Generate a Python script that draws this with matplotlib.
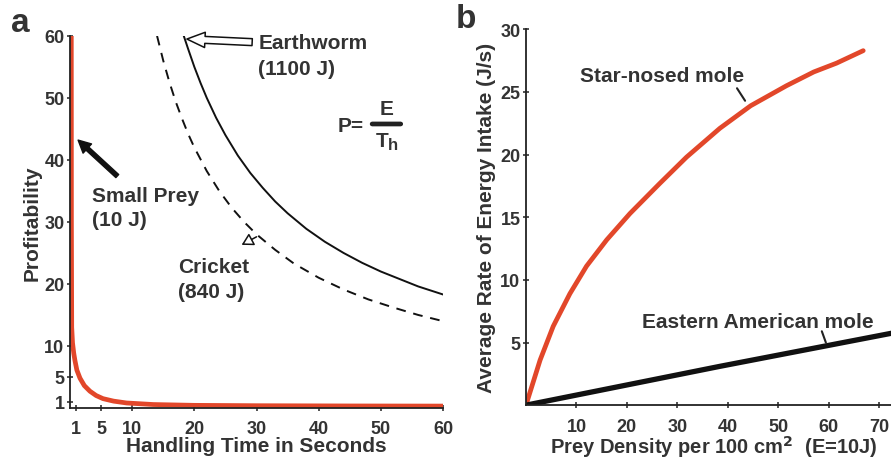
import matplotlib
matplotlib.use("Agg")
from matplotlib import pyplot as plt

plt.rcParams['font.family'] = ['Liberation Sans', 'DejaVu Sans']
plt.rcParams['font.weight'] = 'bold'
plt.rcParams['axes.labelweight'] = 'bold'

TXT = '#333333'
RED = '#e2472a'

# panel a: profitability vs handling time
small_t = [0.2, 0.22, 0.27, 0.4, 0.6, 0.8, 1.1, 1.6, 2.3, 3.2, 4.2, 5.3, 7, 9.1, 13.4, 20, 30, 45, 60]
small_p = [60, 30, 13, 10.5, 8.8, 7.6, 6.1, 4.8, 3.6, 2.7, 2.0, 1.5, 1.1, 0.8, 0.55, 0.42, 0.36, 0.32, 0.3]
worm_t = [18.3, 19, 20, 21, 22, 23.5, 25, 27, 29, 31, 33, 35, 38, 41, 44, 47, 50, 53, 56, 60]
worm_p = [60, 57.9, 55, 52.4, 50, 46.8, 44, 40.7, 37.9, 35.5, 33.3, 31.4, 28.9, 26.8, 25, 23.4, 22, 20.8, 19.6, 18.3]
cricket_t = [14, 15, 16, 17, 18, 19, 20, 22, 24, 26, 28, 30, 33, 36, 40, 44, 48, 52, 56, 60]
cricket_p = [60, 56, 52.5, 49.4, 46.7, 44.2, 42, 38.2, 35, 32.3, 30, 28, 25.5, 23.3, 21, 19.1, 17.5, 16.2, 15, 14]
a_xticks = [1, 5, 10, 20, 30, 40, 50, 60]
a_yticks = [1, 5, 10, 20, 30, 40, 50, 60]

# panel b: energy intake vs prey density
star_x = [0, 2.8, 5.4, 8.7, 12.0, 16.0, 20.6, 26.5, 31.8, 38.4, 44.5, 51.6, 57, 61.5, 66.8]
star_y = [0, 3.6, 6.3, 8.9, 11.1, 13.2, 15.3, 17.7, 19.8, 22.1, 23.9, 25.5, 26.6, 27.3, 28.3]
east_x = [0, 38.4, 72.5]
east_y = [0, 3.1, 5.75]
b_xticks = [10, 20, 30, 40, 50, 60, 70]
b_yticks = [5, 10, 15, 20, 25, 30]

fig = plt.figure(figsize=(8.91, 4.6), dpi=100)
ax1 = fig.add_axes([0.0786, 0.111, 0.4186, 0.8087])
ax2 = fig.add_axes([0.5903, 0.117, 0.4097, 0.817])

for ax in (ax1, ax2):
    ax.spines['top'].set_visible(False)
    ax.spines['right'].set_visible(False)
    for s in ('left', 'bottom'):
        ax.spines[s].set_linewidth(1.3)
        ax.spines[s].set_color('#222222')
    ax.tick_params(labelsize=13, colors=TXT, width=1.2, length=4, direction='inout')
    ax.tick_params(axis='x', pad=7)
    ax.tick_params(axis='y', pad=2)

# ---- panel a
ax1.plot(small_t, small_p, color=RED, lw=3.4, solid_capstyle='butt', solid_joinstyle='round')
ax1.plot(worm_t, worm_p, color='#111111', lw=1.4)
ax1.plot(cricket_t, cricket_p, color='#111111', lw=1.4, dashes=(5, 4))
ax1.set_xlim(0, 60)
ax1.set_ylim(0, 60)
ax1.set_xticks(a_xticks)
ax1.set_yticks(a_yticks)
ax1.set_xlabel('Handling Time in Seconds', fontsize=15, color=TXT, labelpad=-1)
ax1.set_ylabel('Profitability', fontsize=15, color=TXT, labelpad=2)

ax1.text(30.3, 60.4, 'Earthworm\n(1100 J)', fontsize=15, color=TXT, va='top', ha='left', linespacing=1.45)
ax1.annotate('', xy=(18.8, 59.5), xytext=(29.3, 59.0),
             arrowprops=dict(arrowstyle='simple,head_width=1.1,head_length=1.3,tail_width=0.5',
                             fc='white', ec='#111111', lw=1.1, shrinkA=0, shrinkB=0))
ax1.text(3.6, 35.8, 'Small Prey\n(10 J)', fontsize=15, color=TXT, va='top', ha='left', linespacing=1.35)
ax1.annotate('', xy=(1.3, 43.2), xytext=(7.6, 37.4),
             arrowprops=dict(arrowstyle='simple,head_width=0.9,head_length=0.9,tail_width=0.3',
                             fc='#111111', ec='#111111', shrinkA=0, shrinkB=0))
ax1.text(17.4, 24.3, 'Cricket\n(840 J)', fontsize=15, color=TXT, va='top', ha='left', linespacing=1.35)
ax1.annotate('', xy=(27.6, 26.3), xytext=(30.0, 27.6),
             arrowprops=dict(arrowstyle='-|>,head_length=0.7,head_width=0.4',
                             fc='white', ec='#111111', lw=1.1, shrinkA=0, shrinkB=0))

# P = E / Th
ax1.text(43.0, 45.6, 'P=', fontsize=15, color=TXT, va='center', ha='left')
ax1.text(51.0, 46.8, 'E', fontsize=15, color=TXT, va='bottom', ha='center')
ax1.text(51.2, 44.6, 'T', fontsize=15, color=TXT, va='top', ha='right')
ax1.text(51.2, 43.7, 'h', fontsize=12, color=TXT, va='top', ha='left')
ax1.annotate('', xy=(53.2, 45.8), xytext=(48.6, 45.8),
             arrowprops=dict(arrowstyle='-', lw=3.4, color='#222222', shrinkA=0, shrinkB=0))

# ---- panel b
ax2.plot(star_x, star_y, color=RED, lw=3.4, solid_capstyle='round', solid_joinstyle='round')
ax2.plot(east_x, east_y, color='#111111', lw=3.8)
ax2.set_xlim(0, 72.3)
ax2.set_ylim(0, 30)
ax2.set_xticks(b_xticks)
ax2.set_yticks(b_yticks)
ax2.set_xlabel('Prey Density per 100 cm$^\\mathbf{2}$  (E=10J)', fontsize=14.5, color=TXT, labelpad=-1, x=0.515)
ax2.set_ylabel('Average Rate of Energy Intake (J/s)', fontsize=15, color=TXT, labelpad=3)

ax2.text(10.7, 26.3, 'Star-nosed mole', fontsize=15, color=TXT, va='center', ha='left')
ax2.annotate('', xy=(43.4, 24.3), xytext=(41.8, 25.3),
             arrowprops=dict(arrowstyle='-', lw=1.5, color='#222222', shrinkA=0, shrinkB=0))
ax2.text(23.0, 6.7, 'Eastern American mole', fontsize=15, color=TXT, va='center', ha='left')
ax2.annotate('', xy=(59.4, 5.0), xytext=(58.6, 5.9),
             arrowprops=dict(arrowstyle='-', lw=1.5, color='#222222', shrinkA=0, shrinkB=0))

fig.text(0.012, 0.93, 'a', fontsize=24, color=TXT, fontweight='bold')
fig.text(0.512, 0.94, 'b', fontsize=24, color=TXT, fontweight='bold')

fig.savefig('out.png', dpi=100)
